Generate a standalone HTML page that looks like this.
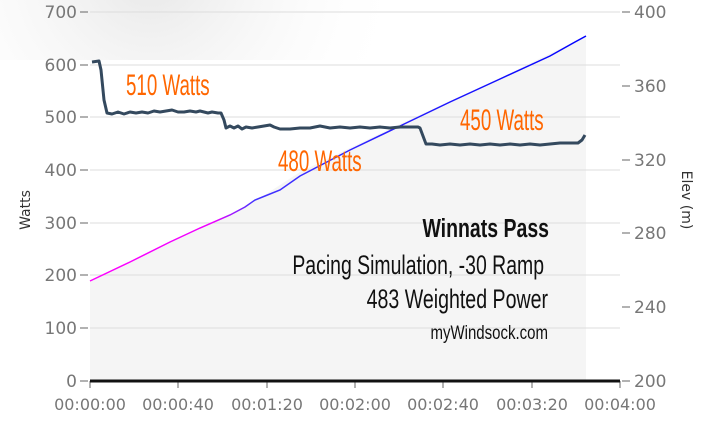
<!DOCTYPE html>
<html><head><style>
body{margin:0;background:#fff;width:712px;height:432px;overflow:hidden}
svg text{font-family:"DejaVu Sans","Liberation Sans",sans-serif}
svg text.c{font-family:"Liberation Sans",sans-serif}
</style></head><body>
<svg width="712" height="432" viewBox="0 0 712 432">
<defs>
<linearGradient id="g" x1="90" x2="586" y1="0" y2="0" gradientUnits="userSpaceOnUse">
<stop offset="0" stop-color="#ff00ff"/><stop offset="0.25" stop-color="#ee00ff"/><stop offset="0.33" stop-color="#4433ff"/><stop offset="1" stop-color="#0000ff"/>
</linearGradient>
<radialGradient id="sh" cx="150" cy="-30" r="260" gradientUnits="userSpaceOnUse">
<stop offset="0" stop-color="#e6e6e6"/><stop offset="1" stop-color="#fff" stop-opacity="0"/>
</radialGradient>
</defs>
<rect width="712" height="432" fill="#fff"/>
<rect width="400" height="60" fill="url(#sh)"/>
<polygon points="90,281 170,242 230,215 260,198 300,172 400,124 500,78 586,36 586,381 90,381" fill="#f5f5f5"/>
<g stroke="#ddd" stroke-width="1">
<line x1="90" x2="620" y1="12" y2="12"/><line x1="90" x2="620" y1="65" y2="65"/><line x1="90" x2="620" y1="117" y2="117"/><line x1="90" x2="620" y1="170" y2="170"/><line x1="90" x2="620" y1="223" y2="223"/><line x1="90" x2="620" y1="275" y2="275"/><line x1="90" x2="620" y1="328" y2="328"/>
</g>
<g stroke="#666" stroke-width="1">
<line x1="80" x2="88" y1="12" y2="12"/><line x1="80" x2="88" y1="65" y2="65"/><line x1="80" x2="88" y1="117" y2="117"/><line x1="80" x2="88" y1="170" y2="170"/><line x1="80" x2="88" y1="223" y2="223"/><line x1="80" x2="88" y1="275" y2="275"/><line x1="80" x2="88" y1="328" y2="328"/><line x1="80" x2="88" y1="381" y2="381"/>
<line x1="622" x2="630" y1="12" y2="12"/><line x1="622" x2="630" y1="86" y2="86"/><line x1="622" x2="630" y1="160" y2="160"/><line x1="622" x2="630" y1="233" y2="233"/><line x1="622" x2="630" y1="307" y2="307"/><line x1="622" x2="630" y1="381" y2="381"/>
<line x1="90" x2="90" y1="381" y2="388"/><line x1="178" x2="178" y1="381" y2="388"/><line x1="267" x2="267" y1="381" y2="388"/><line x1="355" x2="355" y1="381" y2="388"/><line x1="443" x2="443" y1="381" y2="388"/><line x1="532" x2="532" y1="381" y2="388"/><line x1="620" x2="620" y1="381" y2="388"/>
</g>
<line x1="90" x2="620" y1="381" y2="381" stroke="#111" stroke-width="3"/>
<g fill="#777" font-size="17" text-anchor="end">
<text x="77" y="18">700</text><text x="77" y="71">600</text><text x="77" y="123">500</text><text x="77" y="176">400</text><text x="77" y="229">300</text><text x="77" y="281">200</text><text x="77" y="334">100</text><text x="77" y="387">0</text>
</g>
<g fill="#777" font-size="17">
<text x="634" y="18">400</text><text x="634" y="92">360</text><text x="634" y="166">320</text><text x="634" y="239">280</text><text x="634" y="313">240</text><text x="634" y="387">200</text>
</g>
<g fill="#777" font-size="16" text-anchor="middle">
<text x="90" y="410">00:00:00</text><text x="178" y="410">00:00:40</text><text x="267" y="410">00:01:20</text><text x="355" y="410">00:02:00</text><text x="443" y="410">00:02:40</text><text x="532" y="410">00:03:20</text><text x="620" y="410">00:04:00</text>
</g>
<text transform="translate(30,210) rotate(-90)" font-size="14" fill="#333" text-anchor="middle">Watts</text>
<text transform="translate(682,200) rotate(90)" font-size="14" fill="#333" text-anchor="middle">Elev (m)</text>
<polyline points="90,281 130,262 170,242 200,228 230,215 245,207 255,200 265,196 280,190 300,176 350,150 400,126 450,102 500,79 550,56 575,42 586,36" fill="none" stroke="url(#g)" stroke-width="1.5"/>
<polyline points="92,62 99,61 101,70 104,100 107,113 112,114 118,112 124,114 130,112 136,113 142,112 148,113 154,111 160,112 166,111 172,110 178,112 184,112 190,111 196,112 200,111 208,113 212,112 218,113 221,113 224,120 226,128 230,126 234,128 238,126 242,129 246,127 252,128 258,127 264,126 270,125 274,127 280,129 290,129 300,128 310,128 320,126 330,128 340,127 350,128 360,127 370,128 380,127 390,128 400,127 410,127 418,127 420,128 423,136 426,144 432,144 440,145 450,144 460,145 470,144 480,145 490,144 500,145 510,144 520,145 530,144 540,145 550,144 560,143 570,143 578,143 582,140 585,135" fill="none" stroke="#34495e" stroke-width="3" stroke-linejoin="round"/>
<g fill="#ff6600" font-size="30">
<text class="c" transform="translate(126,95) scale(0.625,1)">510 Watts</text>
<text class="c" transform="translate(278,171) scale(0.625,1)">480 Watts</text>
<text class="c" transform="translate(460,130) scale(0.625,1)">450 Watts</text>
</g>
<g text-anchor="end" fill="#111">
<text class="c" transform="translate(549,237) scale(0.75,1)" font-size="26" font-weight="bold">Winnats Pass</text>
<text class="c" transform="translate(544,274) scale(0.72,1)" font-size="27">Pacing Simulation, -30 Ramp</text>
<text class="c" transform="translate(548,308) scale(0.725,1)" font-size="27">483 Weighted Power</text>
<text class="c" transform="translate(548,339) scale(0.79,1)" font-size="19">myWindsock.com</text>
</g>
</svg>
</body></html>
